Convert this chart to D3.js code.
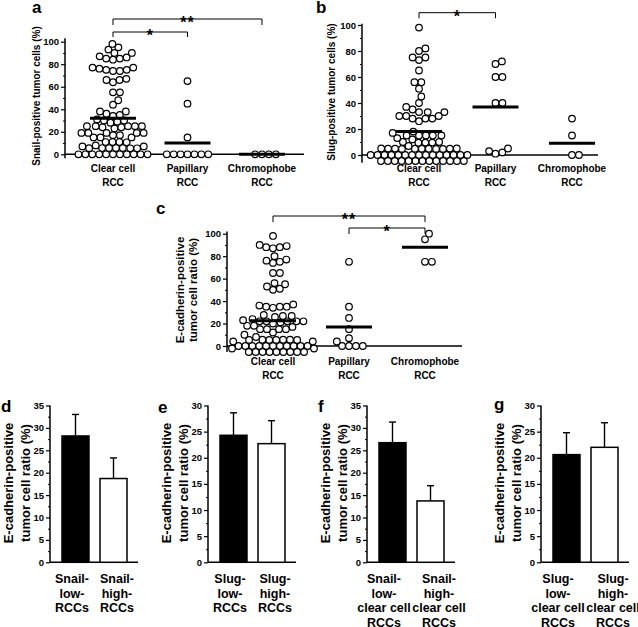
<!DOCTYPE html>
<html>
<head>
<meta charset="utf-8">
<script src="https://cdn.jsdelivr.net/npm/d3@7"></script>
<style>
body{margin:0;background:#fff;}
svg text{font-family:'Liberation Sans',Arial,Helvetica,sans-serif;font-weight:bold;fill:#000;}
</style>
</head>
<body>
<svg id="fig" width="638" height="627"></svg>
<script>
// ---- data ----
var rccTypes = ["Clear cell RCC", "Papillary RCC", "Chromophobe RCC"];
var rccLabels = [["Clear cell", "RCC"], ["Papillary", "RCC"], ["Chromophobe", "RCC"]];

// a: Snail-positive tumor cells (%)
var snailClear = [98,95,93,90,90,87,86,85,85,84, 77,77,76,75,75,74,74, 67,66,66,64, 55,55, 48,44,
  38,38,36,35,34, 31,30,30,29,28, 25,25,25,25,25,24,24,23, 19,19,19,19,19,17,17, 15,15,15, 10,10,10,
  8,7,7,7,5, 4,4, 2,2,2,2, 0,0,0,0,0,0,0,0,0,0,0];
var snailPap = [65,45,15,0,0,0,0,0,0,0];
var snailChromo = [0,0,0,0];
var snailMeans = [32, 10, 0];

// b: Slug-positive tumor cells (%)
var slugClear = [98,82,80,75,75,73,65,56,56,51,45,40,37,35,33,33,33,30,30,30,28,28,28,26,18,17,
  15,15,15,15,15,13,12,10,10,8,8,6,5,5,5,3,3,3,2,2,2,1,1,1,
  0,0,0,0,0,0,0,0,0,0,0,0,0,0,0,0,0,0,0,0,0,0,0,0,0,0,0,0];
var slugPap = [72,70,60,60,40,40,5,3,2,1];
var slugChromo = [28,15,0,0];
var slugMeans = [18, 37, 9];

// c: E-cadherin-positive tumor cell ratio (%)
var ecadClear = [98,90,89,88,88,87,80,77,76,75,74,65,65,56,55,53,51,50,37,36,35,35,35,34,
  25,25,25,25,24,23,22,22,22,22,22,21,20,18,18,17,15,15,15,15,12,10,8,5,4,3,2,2,1,1,
  0,0,0,0,0,0,0,0,0,0,0,0,0,0,0,0,0,0,0,0,0,0,0,0];
var ecadPap = [75,35,25,15,7,4,0,0,0,0];
var ecadChromo = [100,95,75,75];
var ecadMeans = [22.5, 17, 88];

var pctTicks = [0,20,40,60,80,100];
var pctMinor = [10,30,50,70,90];

// d-g: E-cadherin-positive ratio, mean and SEM
var snailRccGroups = [["Snail-","low-","RCCs"], ["Snail-","high-","RCCs"]];
var snailRccMean = [28.2, 18.7], snailRccSem = [4.8, 4.6];
var slugRccGroups = [["Slug-","low-","RCCs"], ["Slug-","high-","RCCs"]];
var slugRccMean = [24.3, 22.7], slugRccSem = [4.3, 4.4];
var snailCcGroups = [["Snail-","low-","clear cell","RCCs"], ["Snail-","high-","clear cell","RCCs"]];
var snailCcMean = [26.7, 13.7], snailCcSem = [4.6, 3.4];
var slugCcGroups = [["Slug-","low-","clear cell","RCCs"], ["Slug-","high-","clear cell","RCCs"]];
var slugCcMean = [20.6, 22.0], slugCcSem = [4.2, 4.7];

var svg = d3.select('#fig');

// ---- beeswarm placement (column scatter) ----
function freeX(placed, yy, cx, dist, maxHalf){
    var cands = [cx];
    placed.forEach(function(p){
        var dy = p.y - yy;
        if(Math.abs(dy) < dist){
            var dx = Math.sqrt(dist*dist - dy*dy);
            cands.push(p.x + dx + 0.01, p.x - dx - 0.01);
        }
    });
    cands.sort(function(a,b){ return Math.abs(a-cx) - Math.abs(b-cx); });
    for(var i = 0; i < cands.length; i++){
        var x = cands[i];
        if(Math.abs(x - cx) > maxHalf) continue;
        var ok = placed.every(function(p){
            var dx = p.x - x, dy = p.y - yy;
            return dx*dx + dy*dy >= dist*dist - 0.01;
        });
        if(ok) return x;
    }
    return null;
}

function swarm(vals, y, cx, dist, maxHalf, zeroHalf){
    var placed = [];
    vals.slice().sort(function(a,b){ return a-b; }).forEach(function(v){
        var y0 = y(v), spot = null;
        var half = v === 0 ? zeroHalf : maxHalf;
        for(var k = 0; k <= 80 && !spot; k++){
            var shifts = k === 0 ? [0] : [k*0.5, -k*0.5];
            for(var s = 0; s < shifts.length && !spot; s++){
                var x = freeX(placed, y0 + shifts[s], cx, dist, half);
                if(x !== null) spot = {x: x, y: y0 + shifts[s]};
            }
        }
        placed.push(spot || {x: cx, y: y0});
    });
    return placed;
}

function leftTicks(g, y, x, majors, minors, fontSize){
    var ax = g.append('g').attr('transform', 'translate(' + x + ',0)')
        .call(d3.axisLeft(y).tickValues(majors).tickSize(4).tickPadding(2).tickFormat(d3.format('d')));
    ax.select('.domain').remove();
    ax.selectAll('line').attr('stroke', '#000').attr('stroke-width', 1.2);
    ax.selectAll('text').style('font-size', fontSize + 'px');
    var mi = g.append('g').attr('transform', 'translate(' + x + ',0)')
        .call(d3.axisLeft(y).tickValues(minors).tickSize(2).tickFormat(''));
    mi.select('.domain').remove();
    mi.selectAll('line').attr('stroke', '#000').attr('stroke-width', 1);
}

function hline(g, x1, x2, y, w){
    return g.append('line').attr('x1', x1).attr('x2', x2).attr('y1', y).attr('y2', y)
        .attr('stroke', '#000').attr('stroke-width', w);
}
function vline(g, x, y1, y2, w){
    return g.append('line').attr('x1', x).attr('x2', x).attr('y1', y1).attr('y2', y2)
        .attr('stroke', '#000').attr('stroke-width', w);
}

function drawScatter(cfg){
    var g = svg.append('g');
    var y = d3.scaleLinear().domain([0, 100]).range([cfg.y0, cfg.y100]);
    var x = d3.scalePoint().domain(rccTypes).range(cfg.catRange);

    vline(g, cfg.axisX, y(cfg.yMin), y(cfg.yMax), 1.5);
    leftTicks(g, y, cfg.axisX, pctTicks, pctMinor, 9.5);
    hline(g, cfg.axisX, cfg.xEnd, y(0), 1.5);

    cfg.groups.forEach(function(vals, i){
        var pts = swarm(vals, y, x(rccTypes[i]), 6.9, cfg.maxHalf, cfg.zeroHalf);
        g.selectAll(null).data(pts).enter().append('circle')
            .attr('cx', function(d){ return d.x; })
            .attr('cy', function(d){ return d.y; })
            .attr('r', 3.3)
            .attr('fill', '#fff').attr('stroke', '#000').attr('stroke-width', 1.2);
    });

    g.selectAll(null).data(cfg.means).enter().append('line')
        .attr('x1', function(d, i){ return x(rccTypes[i]) - 23; })
        .attr('x2', function(d, i){ return x(rccTypes[i]) + 23; })
        .attr('y1', function(d){ return y(d); })
        .attr('y2', function(d){ return y(d); })
        .attr('stroke', '#000').attr('stroke-width', 3);

    rccLabels.forEach(function(lines, i){
        lines.forEach(function(t, j){
            g.append('text').attr('x', x(rccTypes[i])).attr('y', cfg.labelY + j*13.5)
                .attr('text-anchor', 'middle').style('font-size', '10px').text(t);
        });
    });

    cfg.brackets.forEach(function(b){
        var x1 = x(rccTypes[b.from]), x2 = x(rccTypes[b.to]);
        g.append('path')
            .attr('d', 'M' + x1 + ',' + (b.y + b.leg) + 'V' + b.y + 'H' + x2 + 'V' + (b.y + b.leg))
            .attr('fill', 'none').attr('stroke', '#000').attr('stroke-width', 1);
        g.append('text').attr('x', (x1 + x2)/2).attr('y', b.y + 9)
            .attr('text-anchor', 'middle').style('font-size', '16px').style('letter-spacing', '1px')
            .text(b.txt);
    });

    cfg.yTitle.forEach(function(t, j){
        g.append('text')
            .attr('transform', 'translate(' + cfg.yTitleX[j] + ',' + cfg.yTitleY + ') rotate(-90)')
            .attr('text-anchor', 'middle').attr('dominant-baseline', 'central')
            .style('font-size', cfg.yTitleSize + 'px').text(t);
    });

    g.append('text').attr('x', cfg.letter[1]).attr('y', cfg.letter[2])
        .style('font-size', '17px').text(cfg.letter[0]);
}

function drawBars(cfg){
    var g = svg.append('g');
    var cats = cfg.groups.map(function(l){ return l.join(' '); });
    var y = d3.scaleLinear().domain([0, cfg.yMax]).range([562.3, 405.5]);
    var x = d3.scaleBand().domain(cats).range([cfg.axisX + 2.5, cfg.axisX + 86.5])
        .paddingInner(0.29).paddingOuter(0.25);
    var bw = x.bandwidth();

    vline(g, cfg.axisX, y(0), y(cfg.yMax), 1.5);
    leftTicks(g, y, cfg.axisX, d3.range(0, cfg.yMax + 1, 5), d3.range(2.5, cfg.yMax, 5), 9.5);
    hline(g, cfg.axisX, cfg.axisX + 88, y(0), 1.5);

    cats.forEach(function(c, i){
        var cx = x(c) + bw/2, m = cfg.mean[i], top = y(m + cfg.sem[i]);
        vline(g, cx, y(m), top, 1.4);
        hline(g, cx - 3.5, cx + 3.5, top, 1.4);
    });

    g.selectAll(null).data(cats).enter().append('rect')
        .attr('x', function(d){ return x(d); })
        .attr('y', function(d, i){ return y(cfg.mean[i]); })
        .attr('width', bw)
        .attr('height', function(d, i){ return y(0) - y(cfg.mean[i]); })
        .attr('fill', function(d, i){ return i === 0 ? '#000' : '#fff'; })
        .attr('stroke', '#000').attr('stroke-width', 1.5);

    cfg.groups.forEach(function(lines, i){
        var cx = x(cats[i]) + bw/2 + (i === 0 ? -cfg.spread : cfg.spread);
        lines.forEach(function(t, j){
            g.append('text').attr('x', cx).attr('y', 583 + j*14.6)
                .attr('text-anchor', 'middle').style('font-size', '12.5px').text(t);
        });
    });

    ['E-cadherin-positive', 'tumor cell ratio (%)'].forEach(function(t, j){
        g.append('text')
            .attr('transform', 'translate(' + (cfg.axisX - 42 + j*17) + ',483) rotate(-90)')
            .attr('text-anchor', 'middle').attr('dominant-baseline', 'central')
            .style('font-size', '13px').text(t);
    });

    g.append('text').attr('x', cfg.letter[1]).attr('y', cfg.letter[2])
        .style('font-size', '17px').text(cfg.letter[0]);
}

drawScatter({
    groups: [snailClear, snailPap, snailChromo], means: snailMeans,
    axisX: 65, y0: 154.3, y100: 41.7, yMin: -3.5, yMax: 103, xEnd: 304,
    catRange: [113, 262], maxHalf: 36, zeroHalf: 36, labelY: 172,
    yTitle: ['Snail-positive tumor cells (%)'], yTitleX: [36], yTitleY: 96, yTitleSize: 10,
    letter: ['a', 32, 13],
    brackets: [{from: 0, to: 2, y: 19, leg: 6, txt: '**'}, {from: 0, to: 1, y: 32, leg: 5, txt: '*'}]
});

drawScatter({
    groups: [slugClear, slugPap, slugChromo], means: slugMeans,
    axisX: 362, y0: 155, y100: 25, yMin: -6, yMax: 101, xEnd: 598,
    catRange: [419, 572], maxHalf: 40, zeroHalf: 50, labelY: 172,
    yTitle: ['Slug-positive tumor cells (%)'], yTitleX: [331], yTitleY: 92, yTitleSize: 10,
    letter: ['b', 316, 13],
    brackets: [{from: 0, to: 1, y: 12.7, leg: 5.5, txt: '*'}]
});

drawScatter({
    groups: [ecadClear, ecadPap, ecadChromo], means: ecadMeans,
    axisX: 227, y0: 346, y100: 233.7, yMin: -5.3, yMax: 102, xEnd: 462,
    catRange: [273, 425], maxHalf: 33, zeroHalf: 41, labelY: 365,
    yTitle: ['E-cadherin-positive', 'tumor cell ratio (%)'], yTitleX: [180, 193], yTitleY: 290, yTitleSize: 11.5,
    letter: ['c', 156, 214],
    brackets: [{from: 0, to: 2, y: 216, leg: 6, txt: '**'}, {from: 1, to: 2, y: 228, leg: 6, txt: '*'}]
});

drawBars({groups: snailRccGroups, mean: snailRccMean, sem: snailRccSem, yMax: 35, axisX: 50, spread: 3.5, letter: ['d', 1, 412]});
drawBars({groups: slugRccGroups, mean: slugRccMean, sem: slugRccSem, yMax: 30, axisX: 208, spread: 3.5, letter: ['e', 158, 413]});
drawBars({groups: snailCcGroups, mean: snailCcMean, sem: snailCcSem, yMax: 35, axisX: 367, spread: 8.5, letter: ['f', 318, 412]});
drawBars({groups: slugCcGroups, mean: slugCcMean, sem: slugCcSem, yMax: 30, axisX: 541, spread: 8.5, letter: ['g', 494, 410]});
</script>
</body>
</html>
